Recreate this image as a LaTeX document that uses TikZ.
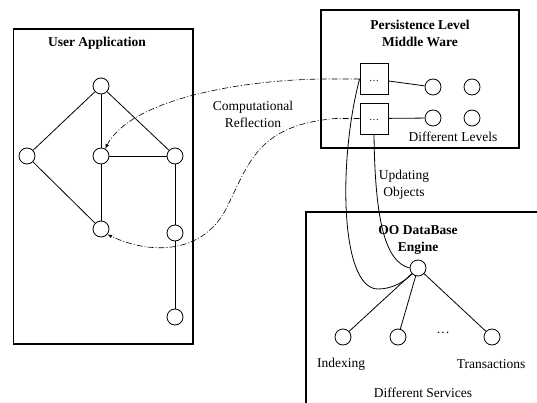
\documentclass[tikz,border=0pt]{standalone}
\usepackage{fontspec}
\setmainfont{Liberation Serif}
\usepackage{tikz}
\usetikzlibrary{arrows, positioning}
\tikzstyle{frame}   = [line width=1.6pt]
\tikzstyle{edge}    = [line width=0.8pt]
\tikzstyle{reflect} = [line width=0.6pt, dash pattern=on 6pt off 2pt on 1pt off 2pt, ->, >=latex]
\tikzstyle{vertex}  = [circle, draw, line width=0.8pt, minimum size=16pt, inner sep=0pt]
\tikzstyle{level}   = [rectangle, draw, line width=0.8pt, minimum width=28pt, minimum height=31pt, inner sep=0pt]
\tikzstyle{title}   = [font=\fontsize{13.5}{17}\selectfont\bfseries]
\tikzstyle{label}   = [font=\fontsize{13.5}{17}\selectfont]
\tikzset{every node/.style={align=center}}

\begin{document}
\begin{tikzpicture}[x=1pt, y=-1pt]
    \useasboundingbox (0,0) rectangle (537,403);
    \clip (0,0) rectangle (537,403);

    % frames
    \draw [frame] (13.5,29) rectangle (193,344);
    \draw [frame] (321,10) rectangle (519,148);
    \draw [frame] (306,212) rectangle (560,420);

    \node (apptitle) at (97,43)    [title] {User Application};
    \node (pertitle) at (420,33.5) [title] {Persistence Level\\Middle Ware};
    \node (dbtitle)  at (418,240)  [title] {OO DataBase\\Engine};

    % user application graph
    \node (a1) at (101,86)  [vertex] {};
    \node (a2) at (27,156)  [vertex] {};
    \node (a3) at (101,156) [vertex] {};
    \node (a4) at (175,156) [vertex] {};
    \node (a5) at (101,229) [vertex] {};
    \node (a6) at (175,233) [vertex] {};
    \node (a7) at (175,317) [vertex] {};

    \draw [edge] (a1) -- (a2);
    \draw [edge] (a1) -- (a3);
    \draw [edge] (a1) -- (a4);
    \draw [edge] (a2) -- (a5);
    \draw [edge] (a3) -- (a4);
    \draw [edge] (a3) -- (a5);
    \draw [edge] (a4) -- (a6);
    \draw [edge] (a6) -- (a7);

    % persistence levels
    \node (sq1) at (374,79)    [level] {\raisebox{-5pt}{\dots}};
    \node (sq2) at (374,118.5) [level] {\raisebox{-5pt}{\dots}};
    \node (l1)  at (433,87)    [vertex] {};
    \node (l2)  at (472,87)    [vertex] {};
    \node (l3)  at (433,118)   [vertex] {};
    \node (l4)  at (472,118)   [vertex] {};
    \node (lvltext) at (453,137) [label] {Different Levels};

    \draw [edge] (sq1) -- (l1);
    \draw [edge] (sq2) -- (l3);

    % database engine
    \node (eng)   at (418,268) [vertex] {};
    \node (s1)    at (343,337) [vertex] {};
    \node (s2)    at (398,337) [vertex] {};
    \node (s3)    at (492,337) [vertex] {};
    \node (sdots) at (443,333) [label] {\dots};
    \node (idx)   at (341,364) [label] {Indexing};
    \node (trn)   at (491,364) [label] {Transactions};
    \node (svc)   at (423,393) [label] {Different Services};

    \draw [edge] (eng) -- (s1);
    \draw [edge] (eng) -- (s2);
    \draw [edge] (eng) -- (s3);

    % reflection and updating
    \node (refl) at (253,114) [label] {Computational\\Reflection};
    \node (upd)  at (404,185) [label] {Updating\\Objects};

    \draw [reflect] (sq1.west) -- ++(-30,0) .. controls (240,79) and (130,100) .. (a3.60);
    \draw [reflect] (sq2.west) -- ++(-24,0) .. controls (260,125) and (250,160) .. (228,205)
                    .. controls (205,255) and (150,255) .. (a5.-40);

    \draw [edge] (sq1.west) .. controls (338,160) and (340,289) .. (378,289)
                 .. controls (392,289) and (404,282) .. (eng.south west);
    \draw [edge] (sq2.south) .. controls (375,220) and (385,262) .. (eng.west);
\end{tikzpicture}
\end{document}
